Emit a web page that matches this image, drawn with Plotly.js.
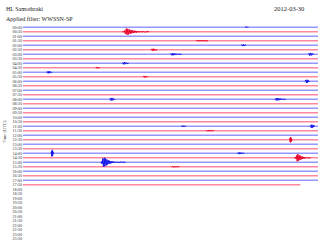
<!DOCTYPE html>
<html><head><meta charset="utf-8">
<script src="https://cdn.plot.ly/plotly-3.0.1.min.js"></script>
<style>html,body{margin:0;padding:0;background:#fff;}#chart{width:320px;height:245px;}</style>
</head><body><div id="chart"></div>
<script>
// Helicorder rows: one row per half hour (UTC)
const rowLabels = ["00:00","00:30","01:00","01:30","02:00","02:30","03:00","03:30","04:00","04:30","05:00","05:30",
  "06:00","06:30","07:00","07:30","08:00","08:30","09:00","09:30","10:00","10:30","11:00","11:30",
  "12:00","12:30","13:00","13:30","14:00","14:30","15:00","15:30","16:00","16:30","17:00","17:30",
  "18:00","18:30","19:00","19:30","20:00","20:30","21:00","21:30","22:00","22:30","23:00","23:30"];
const recordedRows = 36;          // rows with data (00:00 .. 17:30)
const lastRowEndMinute = 28.2;    // the 17:30 row stops here
const rowMinutes = 30;

// Events: row index, start minute, sample step (min), waveform (in row spacings)
const eventRow   = [1, 3, 0, 4, 5, 6, 6, 8, 9, 10, 11, 12, 16, 16, 22, 22, 23, 25, 28, 28, 29, 30, 31];
const eventStart = [10.1, 17.6, 22.6, 22.2, 13.0, 15.0, 29.0, 10.1, 7.4, 2.4, 12.2, 28.7, 8.8, 25.6, 29.2, 16.1, 18.6, 27.1, 2.85, 21.8, 27.6, 7.9, 15.1];
const eventStep  = [0.08, 0.1, 0.08, 0.08, 0.08, 0.08, 0.08, 0.08, 0.08, 0.08, 0.08, 0.06, 0.08, 0.08, 0.06, 0.08, 0.1, 0.04, 0.04, 0.08, 0.07, 0.07, 0.1];

const wave00_30 = [0,0.08,-0.12,0.3,-0.5,0.72,-0.7,0.66,-0.6,0.52,-0.46,0.4,-0.36,0.3,-0.28,0.25,-0.22,0.2,-0.18,0.16,-0.14,0.12,-0.1,0.1,-0.09,0.08,-0.07,0.06,-0.05,0.05,-0.04,0.03,-0.03,0.02,0];
const wave01_30 = [0,0.1,-0.12,0.14,-0.12,0.12,-0.1,0.1,-0.08,0.08,-0.06,0.05,0];
const wave00_00 = [0,0.15,-0.1,0.08,0];
const wave02_00 = [0,0.15,-0.2,0.2,-0.15,0.1,0];
const wave02_30 = [0,0.15,-0.25,0.25,-0.2,0.15,-0.1,0.05,0];
const wave03_00a = [0,0.15,-0.25,0.25,-0.22,0.18,-0.15,0.12,-0.1,0.08,-0.06,0.05,-0.04,0.03,0];
const wave03_00b = [0,0.2,-0.3,0.3,-0.25,0.2,-0.12,0];
const wave04_00 = [0,0.15,-0.25,0.25,-0.2,0.15,-0.1,0.06,0];
const wave04_30 = [0,0.12,-0.15,0.12,-0.08,0];
const wave05_00 = [0,0.15,-0.25,0.25,-0.2,0.15,-0.1,0];
const wave05_30 = [0,0.12,-0.18,0.18,-0.12,0.08,0];
const wave06_00 = [0,0.25,-0.35,0.35,-0.3,0.25,-0.15,0];
const wave08_00a = [0,0.2,-0.3,0.3,-0.25,0.18,-0.1,0];
const wave08_00b = [0,0.15,-0.25,0.28,-0.26,0.22,-0.2,0.16,-0.14,0.1,-0.08,0.06,-0.05,0.04,0];
const wave11_00a = [0,0.2,-0.35,0.35,-0.3,0.25,-0.2,0.15,0];
const wave11_00b = [0,0.1,-0.15,0.12,-0.1,0.08,0];
const wave11_30 = [0,0.1,-0.12,0.14,-0.12,0.1,-0.08,0.06,0];
const wave12_30 = [0,0.3,-0.6,0.62,-0.5,0.3,-0.15,0];
const wave14_00a = [0,0.4,-0.72,0.75,-0.6,0.35,-0.1,0];
const wave14_00b = [0,0.12,-0.2,0.2,-0.18,0.15,-0.12,0.1,-0.06,0];
const wave14_30 = [0,0.1,-0.25,0.5,-0.78,0.8,-0.72,0.6,-0.5,0.42,-0.35,0.3,-0.25,0.2,-0.17,0.14,-0.12,0.1,-0.08,0.07,-0.06,0.05,-0.04,0.03,0];
const wave15_00 = [0,0.15,-0.4,0.8,-1.0,1.0,-0.92,0.85,-0.72,0.62,-0.52,0.45,-0.38,0.32,-0.28,0.24,-0.2,0.18,-0.15,0.13,-0.11,0.1,-0.09,0.08,-0.07,0.06,-0.05,0.05,-0.04,0.04,-0.03,0.03,-0.02,0.02,-0.02,0.02,0];
const wave15_30 = [0,0.1,-0.15,0.15,-0.12,0.1,-0.08,0.06,0];
const eventWave = [wave00_30, wave01_30, wave00_00, wave02_00, wave02_30, wave03_00a, wave03_00b, wave04_00, wave04_30,
  wave05_00, wave05_30, wave06_00, wave08_00a, wave08_00b, wave11_00a, wave11_00b, wave11_30, wave12_30,
  wave14_00a, wave14_00b, wave14_30, wave15_00, wave15_30];

const stationName = "HL Samothraki";
const filterText = "Applied filter: WWSSN-SP";
const dateText = "2012-03-30";
const axisTitle = "Time (UTC)";

const bandColor = ["rgb(150,150,255)", "rgb(255,135,160)"];
const eventColor = ["rgb(20,20,230)", "rgb(235,0,40)"];

const traces = [];
for (let i = 0; i < recordedRows; i++) {
  const end = (i === recordedRows - 1) ? lastRowEndMinute : rowMinutes;
  traces.push({x: [0, end], y: [-i, -i], mode: 'lines', hoverinfo: 'skip',
    line: {color: bandColor[i % 2], width: 1.7}});
}
for (let e = 0; e < eventRow.length; e++) {
  const r = eventRow[e];
  const xs = eventWave[e].map((v, k) => eventStart[e] + k * eventStep[e]);
  const ys = eventWave[e].map(v => -r + v);
  traces.push({x: xs, y: ys, mode: 'lines', hoverinfo: 'skip',
    line: {color: eventColor[r % 2], width: 1}});
}

const W = 320, H = 245, L = 23, R = 2, T = 25, B = 4;
const px = x => (x - L) / (W - L - R);
const py = y => 1 - (y - T) / (H - T - B);

const layout = {
  width: W, height: H, showlegend: false,
  paper_bgcolor: '#fff', plot_bgcolor: '#fff',
  margin: {l: L, r: R, t: T, b: B, pad: 0},
  xaxis: {range: [0, rowMinutes], showgrid: false, zeroline: false, showticklabels: false, ticks: '', showline: false, fixedrange: true},
  yaxis: {range: [-(rowLabels.length - 0.5), 0.5], tickvals: rowLabels.map((s, i) => -i), ticktext: rowLabels,
    showgrid: false, zeroline: false, ticks: '', showline: false,
    tickfont: {family: 'Liberation Serif', size: 4.2, color: '#333'}},
  annotations: [
    {text: stationName, xref: 'paper', yref: 'paper', x: px(4), y: py(8.5), xanchor: 'left', yanchor: 'middle', showarrow: false,
      font: {family: 'Liberation Serif', size: 6, color: '#222'}},
    {text: filterText, xref: 'paper', yref: 'paper', x: px(4), y: py(18.5), xanchor: 'left', yanchor: 'middle', showarrow: false,
      font: {family: 'Liberation Serif', size: 6, color: '#222'}},
    {text: dateText, xref: 'paper', yref: 'paper', x: px(306), y: py(8.5), xanchor: 'right', yanchor: 'middle', showarrow: false,
      font: {family: 'Liberation Serif', size: 6.5, color: '#222'}},
    {text: axisTitle, xref: 'paper', yref: 'paper', x: px(4), y: py(132), xanchor: 'center', yanchor: 'middle', showarrow: false,
      textangle: -90, font: {family: 'Liberation Serif', size: 4.5, color: '#444'}}
  ]
};
Plotly.newPlot('chart', traces, layout, {staticPlot: true, displayModeBar: false});
</script></body></html>
